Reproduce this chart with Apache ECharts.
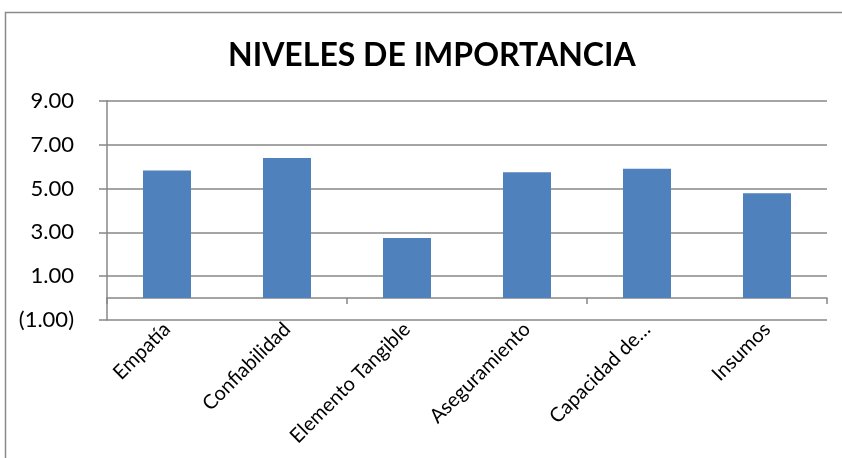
<!DOCTYPE html>
<html>
<head>
<meta charset="utf-8">
<script src="https://cdn.jsdelivr.net/npm/echarts@6/dist/echarts.min.js"></script>
<style>
  html, body { margin: 0; padding: 0; background: #fff; }
  #chart { width: 842px; height: 458px; }
</style>
</head>
<body>
<div id="chart"></div>
<script>
// Dimensiones evaluadas y su nivel de importancia
const categories = ['Empatía', 'Confiabilidad', 'Elemento Tangible', 'Aseguramiento', 'Capacidad de…', 'Insumos'];
const importance = [5.82, 6.39, 2.74, 5.74, 5.90, 4.78];
const yTicks = [-1, 1, 3, 5, 7, 9];

const FONT = 'Lato, "Open Sans", sans-serif';
const GRID_GRAY = '#878787';

function fmt(v) {
  const s = Math.abs(v).toFixed(2);
  return v < 0 ? '(' + s + ')' : s;
}

const chart = echarts.init(document.getElementById('chart'), null, { renderer: 'canvas' });

chart.setOption({
  animation: false,
  backgroundColor: '#ffffff',
  title: {
    text: 'NIVELES DE IMPORTANCIA',
    left: 223,
    top: 35,
    textStyle: { fontFamily: FONT, fontWeight: 'bold', fontSize: 32, color: '#000' }
  },
  graphic: [{
    type: 'rect',
    shape: { x: 5.5, y: 12.5, width: 900, height: 500 },
    style: { fill: null, stroke: '#8a8a8a', lineWidth: 1.5 },
    silent: true
  }],
  grid: { left: 107, right: 15, top: 100.7, bottom: 138, containLabel: false },
  xAxis: [{
    type: 'category',
    data: categories,
    axisLine: { show: true, onZero: true, lineStyle: { color: GRID_GRAY, width: 1.5 } },
    axisTick: { show: true, inside: false, length: 6, lineStyle: { color: GRID_GRAY, width: 1.5 } },
    axisLabel: { show: false },
    splitLine: { show: false }
  }, {
    type: 'category',
    data: categories,
    position: 'bottom',
    axisLine: { show: false, onZero: false },
    axisTick: { show: false },
    axisLabel: {
      show: true, rotate: 45, margin: 6,
      fontFamily: FONT, fontSize: 20, color: '#000'
    },
    splitLine: { show: false }
  }],
  yAxis: {
    type: 'value',
    min: -1,
    max: 9,
    axisLine: { show: true, lineStyle: { color: GRID_GRAY, width: 1.5 } },
    axisTick: { show: true, inside: false, length: 8, customValues: yTicks, lineStyle: { color: GRID_GRAY, width: 1.5 } },
    axisLabel: {
      customValues: yTicks,
      margin: 33,
      fontFamily: FONT, fontSize: 22, color: '#000',
      formatter: fmt
    },
    splitLine: { show: true, lineStyle: { color: GRID_GRAY, width: 1.5 } }
  },
  series: [{
    type: 'bar',
    xAxisIndex: 0,
    data: importance,
    barWidth: 48,
    itemStyle: { color: '#4F81BD' }
  }]
});
</script>
</body>
</html>
